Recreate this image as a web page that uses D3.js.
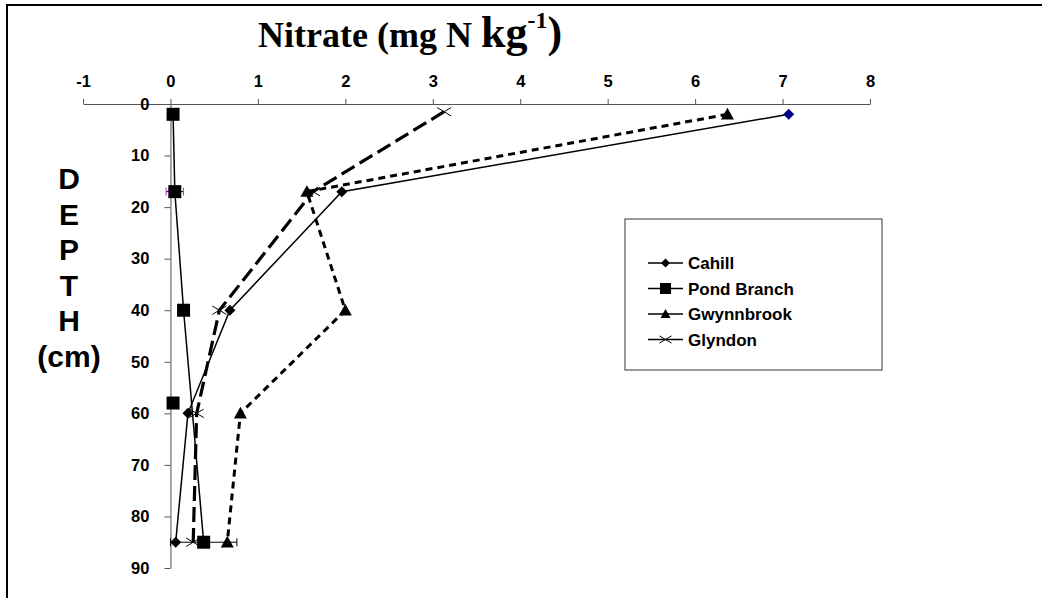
<!DOCTYPE html>
<html>
<head>
<meta charset="utf-8">
<script src="https://cdn.jsdelivr.net/npm/d3@7"></script>
<style>
  body { margin: 0; background: #fff; }
  text { font-family: Arial, "Liberation Sans", sans-serif; }
</style>
</head>
<body>
<div id="chart"></div>
<script>
// data: nitrate (mg N / kg) at each depth (cm)
const seriesNames = ["Cahill", "Pond Branch", "Gwynnbrook", "Glyndon"];
const cahillNitrate = [7.07, 1.96, 0.68, 0.20, 0.06];
const cahillDepth = [2, 17, 40, 60, 85];
const pondNitrate = [0.03, 0.05, 0.15, 0.38];
const pondDepth = [2, 17, 40, 85];
const pondError = [0, 0.1, 0, 0.38];
// unjoined Pond Branch point
const pondExtraNitrate = [0.03];
const pondExtraDepth = [58];
const gwynnNitrate = [6.37, 1.56, 2.0, 0.80, 0.65];
const gwynnDepth = [2, 17, 40, 60, 85];
const glyndonNitrate = [3.13, 1.63, 0.56, 0.30, 0.26];
const glyndonDepth = [1.5, 17, 40, 60, 85];
const xTicks = [-1, 0, 1, 2, 3, 4, 5, 6, 7, 8];
const yTicks = [0, 10, 20, 30, 40, 50, 60, 70, 80, 90];
const depthLetters = ["D", "E", "P", "T", "H", "(cm)"];

const W = 1042, H = 598;
const svg = d3.select("#chart").append("svg")
  .attr("width", W).attr("height", H);

// outer frame (right and bottom edges fall outside the picture)
svg.append("rect")
  .attr("x", 7).attr("y", 5).attr("width", 1100).attr("height", 700)
  .attr("fill", "none").attr("stroke", "#000").attr("stroke-width", 2);

const x = d3.scaleLinear().domain([-1, 8]).range([83, 870]);
const y = d3.scaleLinear().domain([0, 90]).range([104, 568]);

// x axis on top
const xAxis = svg.append("g")
  .attr("transform", `translate(0, ${y(0)})`)
  .call(d3.axisTop(x).tickValues(xTicks).tickFormat(d => String(d))
    .tickSize(5).tickSizeOuter(0).tickPadding(12));
xAxis.attr("font-size", null).attr("font-family", null);
xAxis.select(".domain").attr("stroke", "#555");
xAxis.selectAll(".tick line").attr("stroke", "#555");
xAxis.selectAll("text")
  .style("font-size", "16.5px").style("font-weight", "bold").attr("fill", "#000");

// y axis at zero
const yAxis = svg.append("g")
  .attr("transform", `translate(${x(0)}, 0)`)
  .call(d3.axisLeft(y).tickValues(yTicks).tickFormat(d => String(d))
    .tickSize(6).tickSizeOuter(0).tickPadding(15));
yAxis.attr("font-size", null).attr("font-family", null);
yAxis.select(".domain").attr("stroke", "#888").attr("stroke-width", 1.5);
yAxis.selectAll(".tick line").attr("stroke", "#555");
yAxis.selectAll("text")
  .style("font-size", "16.5px").style("font-weight", "bold").attr("fill", "#000");

// title
const title = svg.append("text")
  .attr("x", 258).attr("y", 47)
  .style("font-family", "'Liberation Serif', 'Times New Roman', serif")
  .style("font-weight", "bold");
title.append("tspan").style("font-size", "36px").text("Nitrate (mg N ");
title.append("tspan").style("font-size", "44px").text("kg");
title.append("tspan").style("font-size", "24px").attr("dy", -19).text("-1");
title.append("tspan").style("font-size", "44px").attr("dy", 19).text(")");

// vertical DEPTH label
svg.append("g").selectAll("text")
  .data(depthLetters)
  .join("text")
  .attr("x", 69)
  .attr("y", (d, i) => 189 + i * 35.5)
  .attr("text-anchor", "middle")
  .style("font-size", "30px").style("font-weight", "bold")
  .text(d => d);

function pts(xs, ds) { return xs.map((v, i) => ({n: v, d: ds[i]})); }

const series = [
  {name: "Cahill", data: pts(cahillNitrate, cahillDepth), width: 1.5, dash: null, marker: "diamond"},
  {name: "Pond Branch", data: pts(pondNitrate, pondDepth), width: 1.5, dash: null, marker: "square"},
  {name: "Gwynnbrook", data: pts(gwynnNitrate, gwynnDepth), width: 3, dash: "7,5", marker: "triangle"},
  {name: "Glyndon", data: pts(glyndonNitrate, glyndonDepth), width: 3.2, dash: "15,6", marker: "cross"}
];

const line = d3.line().x(d => x(d.n)).y(d => y(d.d));

// error bars on Pond Branch
const eb = svg.append("g");
pts(pondNitrate, pondDepth).forEach((p, i) => {
  const e = pondError[i];
  if (!e) return;
  const capColor = e < 0.2 ? "#c030c0" : "#000";
  eb.append("line").attr("x1", x(p.n - e)).attr("x2", x(p.n + e))
    .attr("y1", y(p.d)).attr("y2", y(p.d)).attr("stroke", "#000").attr("stroke-width", 1);
  [p.n - e, p.n + e].forEach(v => {
    eb.append("line").attr("x1", x(v)).attr("x2", x(v))
      .attr("y1", y(p.d) - 4).attr("y2", y(p.d) + 4)
      .attr("stroke", capColor).attr("stroke-width", 1);
  });
});

// lines
svg.append("g").selectAll("path")
  .data(series)
  .join("path")
  .attr("d", s => line(s.data))
  .attr("fill", "none")
  .attr("stroke", "#000")
  .attr("stroke-width", s => s.width)
  .attr("stroke-dasharray", s => s.dash);

function drawMarker(g, type, cx, cy, size, color) {
  const h = size / 2;
  if (type === "diamond") {
    g.append("path").attr("d", `M${cx},${cy - h}L${cx + h},${cy}L${cx},${cy + h}L${cx - h},${cy}Z`)
      .attr("fill", color);
  } else if (type === "square") {
    g.append("rect").attr("x", cx - h).attr("y", cy - h).attr("width", size).attr("height", size)
      .attr("fill", color);
  } else if (type === "triangle") {
    g.append("path").attr("d", `M${cx},${cy - h}L${cx + h},${cy + h * 0.8}L${cx - h},${cy + h * 0.8}Z`)
      .attr("fill", color);
  } else {
    g.append("path").attr("d", `M${cx - h},${cy - h * 0.6}L${cx + h},${cy + h * 0.6}M${cx - h},${cy + h * 0.6}L${cx + h},${cy - h * 0.6}`)
      .attr("stroke", color).attr("stroke-width", 1).attr("fill", "none");
  }
}

const sizes = {diamond: 11, square: 13, triangle: 13, cross: 14};
const marks = svg.append("g");
series.forEach(s => {
  s.data.forEach((p, i) => {
    const col = (s.name === "Cahill" && i === 0) ? "#000080" : "#000";
    drawMarker(marks, s.marker, x(p.n), y(p.d), sizes[s.marker], col);
  });
});
pts(pondExtraNitrate, pondExtraDepth).forEach(p => {
  drawMarker(marks, "square", x(p.n), y(p.d), sizes.square, "#000");
});

// legend
const lg = svg.append("g");
lg.append("rect").attr("x", 625).attr("y", 219).attr("width", 257).attr("height", 151)
  .attr("fill", "#fff").attr("stroke", "#333").attr("stroke-width", 1);
const legendSizes = {diamond: 9, square: 11, triangle: 10, cross: 12};
series.forEach((s, i) => {
  const ly = 263 + i * 25.5;
  lg.append("line").attr("x1", 648).attr("x2", 683).attr("y1", ly).attr("y2", ly)
    .attr("stroke", "#000").attr("stroke-width", 1.5);
  drawMarker(lg, s.marker, 665.5, ly, legendSizes[s.marker], "#000");
  lg.append("text").attr("x", 688).attr("y", ly).attr("dy", "0.36em")
    .style("font-size", "17px").style("font-weight", "bold").text(s.name);
});
</script>
</body>
</html>
